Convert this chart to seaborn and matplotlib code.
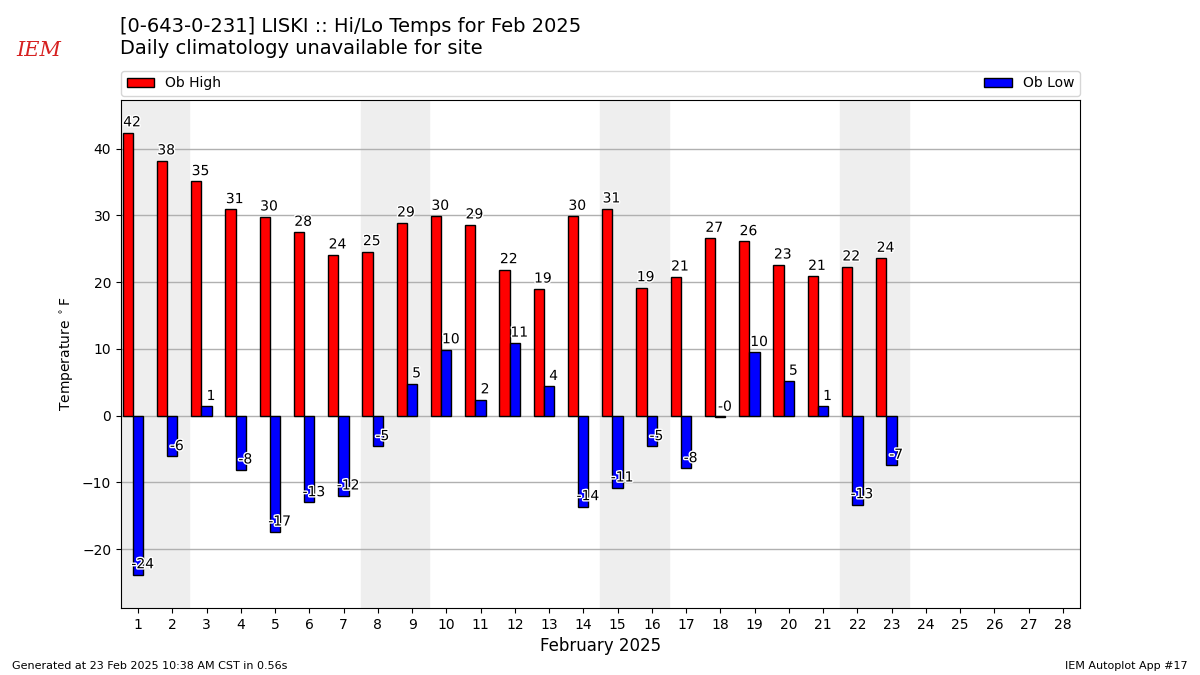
import pandas as pd
import matplotlib
matplotlib.use("Agg")
import matplotlib.pyplot as plt
import matplotlib.patheffects as pe
import seaborn as sns

days = list(range(1, 24))
ob_high = [42.4, 38.2, 35.1, 30.9, 29.8, 27.5, 24.1, 24.6, 28.9, 29.9, 28.6, 21.9,
           19.0, 29.9, 31.0, 19.2, 20.8, 26.6, 26.1, 22.6, 20.9, 22.3, 23.6]
ob_low = [-23.8, -6.1, 1.4, -8.1, -17.4, -13.0, -12.0, -4.6, 4.8, 9.9, 2.4, 10.9,
          4.4, -13.6, -10.8, -4.6, -7.9, -0.2, 9.5, 5.2, 1.4, -13.3, -7.4]
weekends = [(0.5, 2.5), (7.5, 9.5), (14.5, 16.5), (21.5, 23.5)]

df = pd.DataFrame({
    "day": days * 2,
    "temp": ob_high + ob_low,
    "series": ["Ob High"] * len(days) + ["Ob Low"] * len(days),
})
# shift so the high bar sits left of the day tick and the low bar on it
df["xpos"] = df["day"] - 0.15

fig = plt.figure(figsize=(12, 6.75), dpi=100)
ax = fig.add_axes([0.1008, 0.0993, 0.7992, 0.7526])

for a, b in weekends:
    ax.axvspan(a, b, color="#EEEEEE", zorder=0)

sns.barplot(data=df, x="xpos", y="temp", hue="series", native_scale=True,
            palette=["red", "blue"], saturation=1, edgecolor="black", linewidth=1,
            width=0.6, errorbar=None, ax=ax, zorder=2)

stroke = [pe.withStroke(linewidth=2, foreground="white")]
for d, v in zip(days, ob_high):
    ax.text(d - 0.18, v + 0.5, f"{v:.0f}", ha="center", va="bottom", fontsize=10,
            zorder=4, path_effects=stroke)
for d, v in zip(days, ob_low):
    ax.text(d + 0.13, v + 0.5, f"{v:.0f}", ha="center", va="bottom", fontsize=10,
            zorder=4, path_effects=stroke)

handles, labels = ax.get_legend_handles_labels()
ax.get_legend().remove()
ax.legend(handles, labels, loc="lower left", ncol=2, mode="expand",
          bbox_to_anchor=(0, 1.008, 1, 0.05), borderaxespad=0, fontsize=10)

ax.set_xlim(0.5, 28.5)
ax.set_ylim(-28.8, 47.3)
ax.set_xticks(range(1, 29))
ax.set_xticklabels([str(i) for i in range(1, 29)])
ax.set_yticks([-20, -10, 0, 10, 20, 30, 40])
ax.grid(axis="y", color="#b0b0b0", linewidth=1)
ax.set_axisbelow(True)
ax.set_xlabel("February 2025", fontsize=12)
ax.set_ylabel(r"Temperature $^\circ$F", fontsize=10)

fig.text(0.1, 0.975, "[0-643-0-231] LISKI :: Hi/Lo Temps for Feb 2025\n"
         "Daily climatology unavailable for site", ha="left", va="top", fontsize=14)
fig.text(0.032, 0.925, "IEM", color="#d62020", fontsize=15, style="italic",
         family="DejaVu Serif", ha="center", va="center")
fig.text(0.01, 0.013, "Generated at 23 Feb 2025 10:38 AM CST in 0.56s",
         fontsize=8, ha="left", va="center")
fig.text(0.99, 0.013, "IEM Autoplot App #17", fontsize=8, ha="right", va="center")

fig.savefig("out.png", dpi=100)
